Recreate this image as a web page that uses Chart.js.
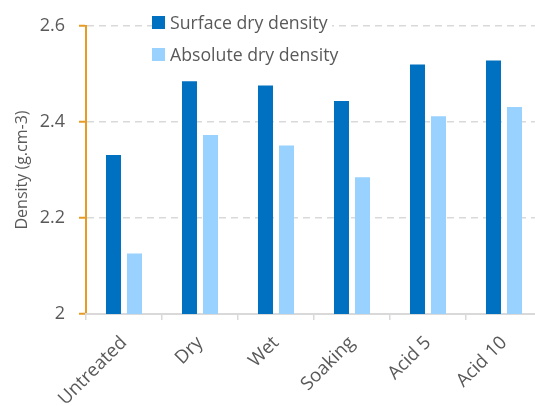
<!DOCTYPE html>
<html>
<head>
<meta charset="utf-8">
<script src="https://cdn.jsdelivr.net/npm/chart.js@4/dist/chart.umd.min.js"></script>
<style>
    html, body { margin: 0; padding: 0; background: #fff; overflow: hidden; }
    #wrap { position: absolute; left: 0; top: 0; width: 545px; height: 406px; }
    .legend-item {
        position: absolute; left: 152px; height: 22px; padding-right: 4px;
        background: #fff; display: flex; align-items: center;
        font-family: "Open Sans", sans-serif; font-size: 17.7px; color: #595959;
    }
    .legend-item i { display: inline-block; width: 13px; height: 13px; margin-right: 5px; }
</style>
</head>
<body>
<div id="wrap">
    <canvas id="densityChart" width="545" height="406"></canvas>
    <div class="legend-item" style="top:11px"><i style="background:#0070c0"></i>Surface dry density</div>
    <div class="legend-item" style="top:43px"><i style="background:#99d2fe"></i>Absolute dry density</div>
</div>
<script>
// treatments and measured densities (g.cm-3)
const categories = ['Untreated', 'Dry', 'Wet', 'Soaking', 'Acid 5', 'Acid 10'];
const surfaceDry = [2.331, 2.485, 2.476, 2.444, 2.520, 2.528];
const absoluteDry = [2.126, 2.373, 2.351, 2.285, 2.412, 2.431];

const textColor = '#595959';
const fontFamily = '"Open Sans", sans-serif';

const ctx = document.getElementById('densityChart').getContext('2d');

new Chart(ctx, {
    type: 'bar',
    data: {
        labels: categories,
        datasets: [
            {
                label: 'Surface dry density',
                data: surfaceDry,
                backgroundColor: '#0070c0',
                categoryPercentage: 0.553,
                barPercentage: 0.714
            },
            {
                label: 'Absolute dry density',
                data: absoluteDry,
                backgroundColor: '#99d2fe',
                categoryPercentage: 0.553,
                barPercentage: 0.714
            }
        ]
    },
    options: {
        responsive: false,
        animation: false,
        layout: { padding: { left: 0, right: 3, top: 26, bottom: 0 } },
        plugins: {
            legend: { display: false },
            tooltip: { enabled: false }
        },
        scales: {
            y: {
                min: 2,
                max: 2.6,
                ticks: {
                    stepSize: 0.2,
                    color: textColor,
                    padding: 14,
                    font: { family: fontFamily, size: 18 },
                    // "2", "2.2", ... without trailing zero
                    callback: value => String(Number(value.toFixed(1)))
                },
                grid: {
                    color: '#d9d9d9',
                    lineWidth: 1.5,
                    tickColor: '#e69b25',
                    tickLength: 7,
                    tickWidth: 2
                },
                border: { color: '#e69b25', width: 2, dash: [7, 5] },
                title: {
                    display: true,
                    text: 'Density (g.cm-3)',
                    color: textColor,
                    padding: { top: 13, bottom: 0 },
                    font: { family: fontFamily, size: 16 }
                },
                afterFit: scale => { scale.width = 86; }
            },
            x: {
                ticks: {
                    color: textColor,
                    minRotation: 45,
                    maxRotation: 45,
                    padding: 12,
                    font: { family: fontFamily, size: 18.5 }
                },
                grid: {
                    drawOnChartArea: false,
                    color: '#d9d9d9',
                    tickLength: 6,
                    lineWidth: 1.5
                },
                border: { color: '#d9d9d9', width: 2 },
                afterFit: scale => {
                    scale.height = 92;
                    scale.paddingLeft = 0;
                    scale.paddingRight = 0;
                }
            }
        }
    }
});
</script>
</body>
</html>
